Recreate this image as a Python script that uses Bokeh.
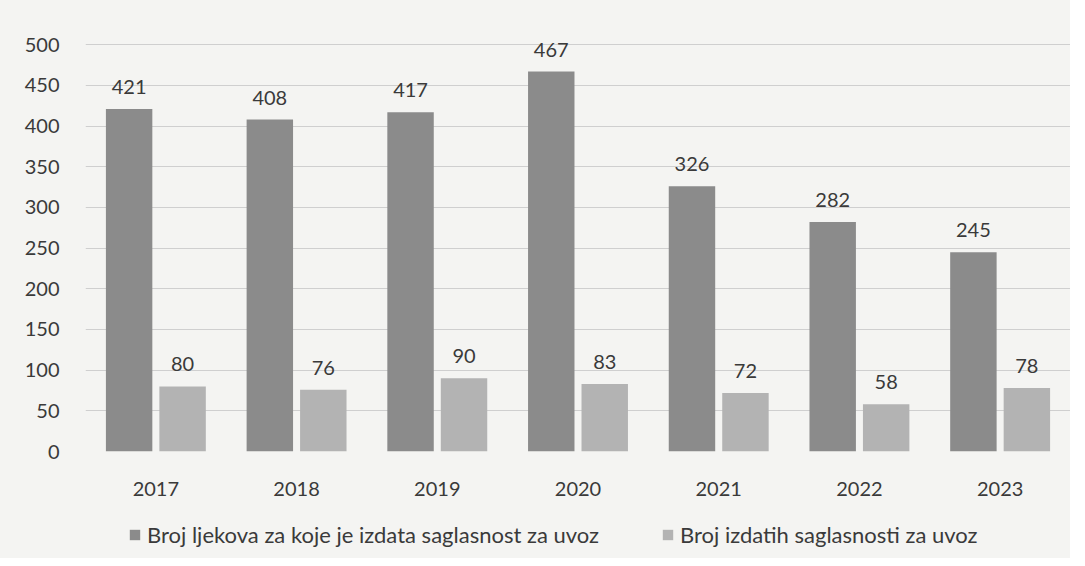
from bokeh.plotting import figure
from bokeh.layouts import column
from bokeh.models import ColumnDataSource, FactorRange, Range1d, Legend, LegendItem, SingleIntervalTicker, LabelSet
from bokeh.transform import dodge
from bokeh.core.properties import value
from bokeh.embed import file_html
from bokeh.resources import INLINE

years = ["2017", "2018", "2019", "2020", "2021", "2022", "2023"]
lijekovi = [421, 408, 417, 467, 326, 282, 245]
saglasnosti = [80, 76, 90, 83, 72, 58, 78]
series_names = ["Broj ljekova za koje je izdata saglasnost za uvoz",
                "Broj izdatih saglasnosti za uvoz"]
colors = ["#8b8b8b", "#b3b3b3"]

src = ColumnDataSource(dict(year=years, a=lijekovi, b=saglasnosti,
                            at=[str(v) for v in lijekovi], bt=[str(v) for v in saglasnosti]))

FONT = "Lato"
TXT = "#3a3a3a"
BG = "#f4f4f2"

p = figure(x_range=FactorRange(*years), y_range=Range1d(0, 515),
           width=1070, height=510, output_backend="svg", toolbar_location=None,
           min_border_left=85, min_border_right=0, min_border_top=32, min_border_bottom=59)
p.background_fill_color = BG
p.border_fill_color = BG
p.outline_line_color = None

p.vbar(x=dodge("year", -0.19, range=p.x_range), top="a", width=0.33, source=src,
       fill_color=colors[0], line_color=None)
p.vbar(x=dodge("year", 0.19, range=p.x_range), top="b", width=0.33, source=src,
       fill_color=colors[1], line_color=None)

for col, ycol, off in (("at", "a", -0.19), ("bt", "b", 0.19)):
    lbl = LabelSet(x=dodge("year", off, range=p.x_range), y=ycol, text=col, source=src,
                   text_align="center", text_baseline="bottom", y_offset=15,
                   text_font=value(FONT), text_font_size="20px", text_color=TXT)
    p.add_layout(lbl)

p.yaxis.ticker = SingleIntervalTicker(interval=50)
p.yaxis.axis_line_color = None
p.yaxis.major_tick_line_color = None
p.yaxis.minor_tick_line_color = None
p.yaxis.major_label_text_font = FONT
p.yaxis.major_label_text_font_size = "20px"
p.yaxis.major_label_text_color = TXT
p.yaxis.major_label_standoff = 20

p.xaxis.axis_line_color = None
p.xaxis.major_tick_line_color = None
p.xaxis.major_label_text_font = FONT
p.xaxis.major_label_text_font_size = "20px"
p.xaxis.major_label_text_color = TXT
p.xaxis.major_label_standoff = 24

p.xgrid.grid_line_color = None
p.ygrid.grid_line_color = "#cfcfcf"
p.ygrid.grid_line_width = 1

# legend strip: same data, drawn outside its visible y window so only the legend shows
lg = figure(width=1070, height=48, output_backend="svg", toolbar_location=None,
            x_range=FactorRange(*years), y_range=Range1d(900, 1000),
            min_border_left=85, min_border_right=0, min_border_top=0, min_border_bottom=0)
lg.axis.visible = False
lg.grid.grid_line_color = None
lg.outline_line_color = None
lg.background_fill_color = BG
lg.border_fill_color = BG
rs = [lg.vbar(x="year", top=col, width=0.3, source=src, fill_color=c, line_color=None)
      for col, c in (("a", colors[0]), ("b", colors[1]))]
legend = Legend(items=[LegendItem(label=n, renderers=[r]) for n, r in zip(series_names, rs)],
                orientation="horizontal", location=(43, 10),
                label_text_font=FONT, label_text_font_size="22px", label_text_color=TXT,
                glyph_width=13, glyph_height=13, spacing=62, label_standoff=6,
                background_fill_alpha=0, border_line_color=None, margin=0, padding=0)
lg.add_layout(legend, "center")

layout = column(p, lg, spacing=0, styles={"background-color": BG})
open("out.html", "w").write(file_html(layout, INLINE))
